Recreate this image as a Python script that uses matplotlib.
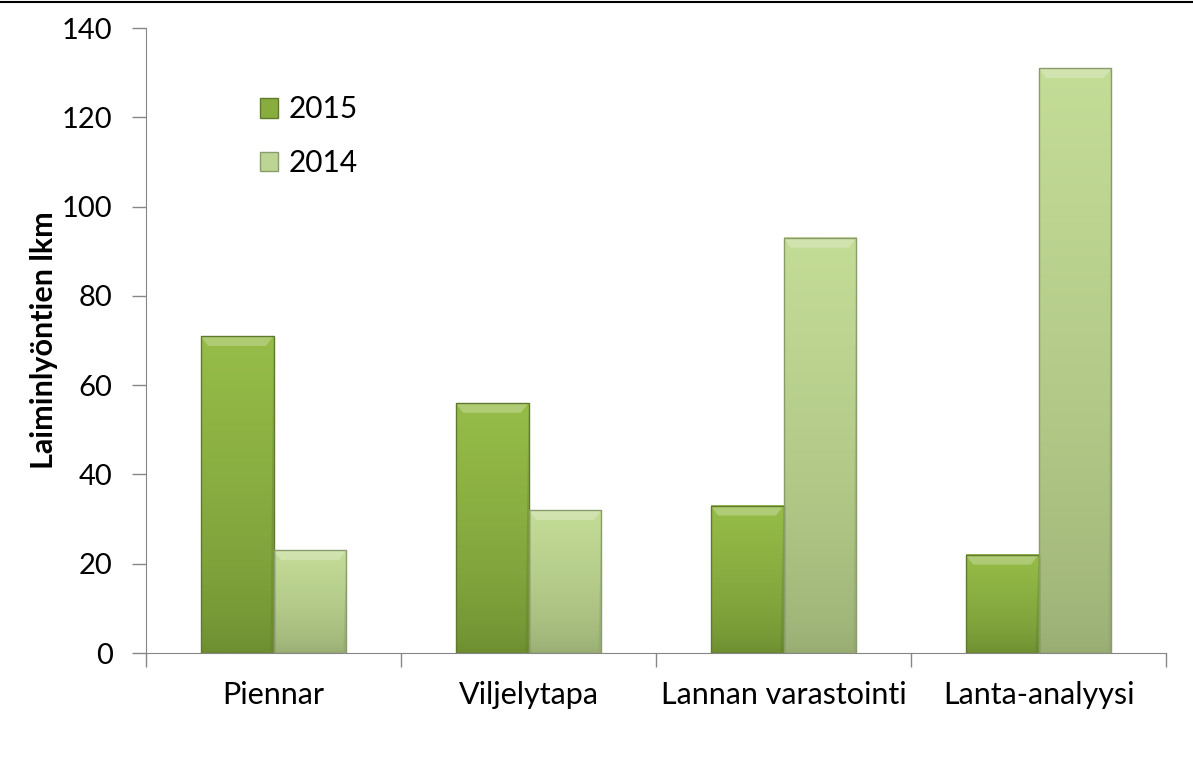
import numpy as np
import matplotlib.pyplot as plt
from matplotlib.patches import Patch
from matplotlib.lines import Line2D

# Data
categories = ['Piennar', 'Viljelytapa', 'Lannan varastointi', 'Lanta-analyysi']
vals_2015 = [71, 56, 33, 22]
vals_2014 = [23, 32, 93, 131]

plt.rcParams['font.family'] = ['Lato', 'DejaVu Sans']

fig = plt.figure(figsize=(11.93, 7.61), dpi=100)
ax = fig.add_axes([146 / 1193, 1 - 653 / 761, 1020 / 1193, 625 / 761])

bar_w = 0.286
x = np.arange(len(categories))


def gradient_bar(ax, x0, h, w, c_top, c_bot, edge):
    # vertical gradient, lighter at top
    grad = np.linspace(0, 1, 256)[:, None] ** 0.6
    c_top = np.array(c_top) / 255
    c_bot = np.array(c_bot) / 255
    img = c_bot[None, None, :] * (1 - grad[..., None]) + c_top[None, None, :] * grad[..., None]
    ax.imshow(img, extent=[x0, x0 + w, 0, h], origin='lower', aspect='auto', zorder=2)
    # bevel highlight at top
    bev = 2.2
    ax.fill([x0, x0 + w, x0 + w - 0.03, x0 + 0.03], [h, h, h - bev, h - bev],
            color='white', alpha=0.25, lw=0, zorder=3)
    ax.fill([x0 + w, x0 + w, x0 + w - 0.012], [h, 0, 0.5],
            color=edge, alpha=0.35, lw=0, zorder=3)
    ax.plot([x0, x0 + w, x0 + w, x0, x0], [0, 0, h, h, 0], color=edge, lw=1.0, zorder=4)


for i in range(len(categories)):
    gradient_bar(ax, x[i] - bar_w, vals_2015[i], bar_w, (150, 188, 72), (108, 140, 48), '#5f7a2c')
    gradient_bar(ax, x[i], vals_2014[i], bar_w, (195, 220, 150), (152, 172, 114), '#8a9c6c')

ax.set_xlim(-0.5, len(categories) - 0.5)
ax.set_ylim(0, 140)
ax.set_yticks(np.arange(0, 141, 20))
ax.set_xticks(x)
ax.set_xticklabels(categories, fontsize=22)
ax.set_xticks(np.arange(-0.5, len(categories), 1), minor=True)
ax.tick_params(axis='x', which='major', length=0, pad=20)
ax.tick_params(axis='x', which='minor', length=10, color='#868686', width=1)
ax.tick_params(axis='y', length=10, color='#868686', width=1, labelsize=21, pad=14)
for s in ['top', 'right']:
    ax.spines[s].set_visible(False)
for s in ['left', 'bottom']:
    ax.spines[s].set_color('#868686')
ax.set_ylabel('Laiminlyöntien lkm', fontsize=22, fontweight='bold', labelpad=3)

handles = [Patch(facecolor='#88ad3e', edgecolor='#5f7a2c', label='2015'),
           Patch(facecolor='#bcd494', edgecolor='#8a9c6c', label='2014')]
ax.legend(handles=handles, loc='upper left', bbox_to_anchor=(0.085, 0.935), frameon=False,
          fontsize=21.5, handlelength=0.62, handleheight=0.62, handletextpad=0.35,
          labelspacing=0.85)

fig.add_artist(Line2D([0, 1], [1 - 1.5 / 761, 1 - 1.5 / 761], color='black', lw=1.5,
                      transform=fig.transFigure))

fig.savefig('out.png', dpi=100)
